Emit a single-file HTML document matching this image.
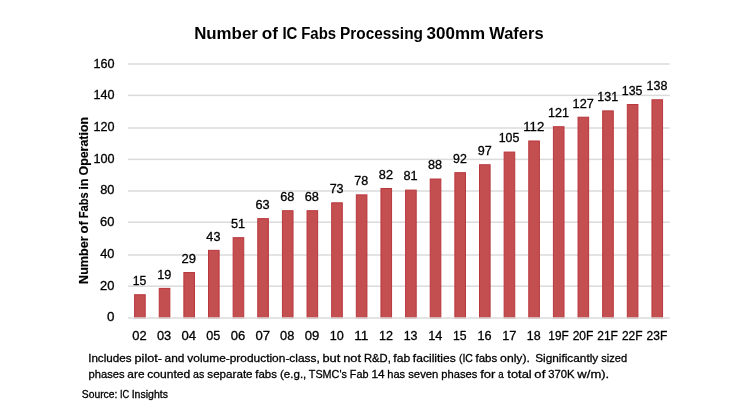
<!DOCTYPE html>
<html lang="en"><head><meta charset="utf-8"><title>Number of IC Fabs Processing 300mm Wafers</title>
<style>html,body{margin:0;padding:0;background:#fff}body{width:750px;height:420px;overflow:hidden}svg{display:block}text{font-family:"Liberation Sans",sans-serif;fill:#000;stroke:#000;stroke-width:0.3px;white-space:pre}.b{font-weight:bold;stroke-width:0}.b2{font-weight:bold;stroke-width:.15px}</style></head><body>
<svg width="750" height="420" viewBox="0 0 750 420">
<rect width="750" height="420" fill="#fff"/>
<g fill="#dbdbdb">
<rect x="127.8" y="285.45" width="542.0" height="1.5"/>
<rect x="127.8" y="254.25" width="542.0" height="1.5"/>
<rect x="127.8" y="221.45" width="542.0" height="1.5"/>
<rect x="127.8" y="190.25" width="542.0" height="1.5"/>
<rect x="127.8" y="158.65" width="542.0" height="1.5"/>
<rect x="127.8" y="127.25" width="542.0" height="1.5"/>
<rect x="127.8" y="94.65" width="542.0" height="1.5"/>
<rect x="127.8" y="63.25" width="542.0" height="1.5"/>
</g>
<g fill="#c44f51" stroke="#b8363c" stroke-width="1">
<rect x="134.60" y="294.73" width="10.6" height="23.27"/>
<rect x="159.24" y="288.38" width="10.6" height="29.62"/>
<rect x="183.87" y="272.54" width="10.6" height="45.46"/>
<rect x="208.51" y="250.34" width="10.6" height="67.66"/>
<rect x="233.14" y="237.67" width="10.6" height="80.33"/>
<rect x="257.78" y="218.64" width="10.6" height="99.36"/>
<rect x="282.42" y="210.72" width="10.6" height="107.28"/>
<rect x="307.05" y="210.72" width="10.6" height="107.28"/>
<rect x="331.69" y="202.80" width="10.6" height="115.20"/>
<rect x="356.32" y="194.87" width="10.6" height="123.13"/>
<rect x="380.96" y="188.53" width="10.6" height="129.47"/>
<rect x="405.60" y="190.12" width="10.6" height="127.88"/>
<rect x="430.23" y="179.02" width="10.6" height="138.98"/>
<rect x="454.87" y="172.68" width="10.6" height="145.32"/>
<rect x="479.50" y="164.75" width="10.6" height="153.25"/>
<rect x="504.14" y="152.08" width="10.6" height="165.92"/>
<rect x="528.78" y="140.98" width="10.6" height="177.02"/>
<rect x="553.41" y="126.72" width="10.6" height="191.28"/>
<rect x="578.05" y="117.21" width="10.6" height="200.79"/>
<rect x="602.68" y="110.87" width="10.6" height="207.13"/>
<rect x="627.32" y="104.53" width="10.6" height="213.47"/>
<rect x="651.96" y="99.77" width="10.6" height="218.23"/>
</g>
<rect x="127.8" y="317.25" width="542.0" height="1.5" fill="#dbdbdb"/>
<g>
<text x="132.66" y="285.03" font-size="12.5" textLength="13.61" lengthAdjust="spacingAndGlyphs">15</text>
<text x="157.26" y="278.69" font-size="12.5" textLength="14.15" lengthAdjust="spacingAndGlyphs">19</text>
<text x="181.59" y="262.84" font-size="12.5" textLength="14.47" lengthAdjust="spacingAndGlyphs">29</text>
<text x="206.39" y="240.65" font-size="12.5" textLength="14.03" lengthAdjust="spacingAndGlyphs">43</text>
<text x="230.98" y="227.97" font-size="12.5" textLength="14.17" lengthAdjust="spacingAndGlyphs">51</text>
<text x="255.51" y="208.94" font-size="12.5" textLength="14.17" lengthAdjust="spacingAndGlyphs">63</text>
<text x="280.15" y="201.02" font-size="12.5" textLength="14.17" lengthAdjust="spacingAndGlyphs">68</text>
<text x="304.79" y="201.02" font-size="12.5" textLength="14.17" lengthAdjust="spacingAndGlyphs">68</text>
<text x="329.65" y="193.10" font-size="12.5" textLength="13.94" lengthAdjust="spacingAndGlyphs">73</text>
<text x="354.28" y="185.17" font-size="12.5" textLength="13.94" lengthAdjust="spacingAndGlyphs">78</text>
<text x="378.80" y="178.83" font-size="12.5" textLength="14.17" lengthAdjust="spacingAndGlyphs">82</text>
<text x="403.43" y="180.42" font-size="12.5" textLength="14.17" lengthAdjust="spacingAndGlyphs">81</text>
<text x="428.07" y="169.32" font-size="12.5" textLength="14.06" lengthAdjust="spacingAndGlyphs">88</text>
<text x="453.10" y="162.98" font-size="12.5" textLength="13.76" lengthAdjust="spacingAndGlyphs">92</text>
<text x="477.73" y="155.06" font-size="12.5" textLength="13.99" lengthAdjust="spacingAndGlyphs">97</text>
<text x="498.69" y="142.38" font-size="12.5" textLength="20.63" lengthAdjust="spacingAndGlyphs">105</text>
<text x="523.26" y="131.28" font-size="12.5" textLength="21.05" lengthAdjust="spacingAndGlyphs">112</text>
<text x="547.95" y="117.02" font-size="12.5" textLength="20.97" lengthAdjust="spacingAndGlyphs">121</text>
<text x="572.57" y="107.51" font-size="12.5" textLength="21.20" lengthAdjust="spacingAndGlyphs">127</text>
<text x="597.22" y="101.17" font-size="12.5" textLength="20.97" lengthAdjust="spacingAndGlyphs">131</text>
<text x="621.87" y="94.83" font-size="12.5" textLength="20.63" lengthAdjust="spacingAndGlyphs">135</text>
<text x="646.50" y="90.07" font-size="12.5" textLength="20.86" lengthAdjust="spacingAndGlyphs">138</text>
</g><g>
<text x="132.26" y="339.50" font-size="12.5" textLength="14.35" lengthAdjust="spacingAndGlyphs">02</text>
<text x="156.90" y="339.50" font-size="12.5" textLength="14.24" lengthAdjust="spacingAndGlyphs">03</text>
<text x="181.53" y="339.50" font-size="12.5" textLength="14.54" lengthAdjust="spacingAndGlyphs">04</text>
<text x="206.18" y="339.50" font-size="12.5" textLength="14.01" lengthAdjust="spacingAndGlyphs">05</text>
<text x="230.81" y="339.50" font-size="12.5" textLength="14.47" lengthAdjust="spacingAndGlyphs">06</text>
<text x="255.44" y="339.50" font-size="12.5" textLength="14.59" lengthAdjust="spacingAndGlyphs">07</text>
<text x="280.08" y="339.50" font-size="12.5" textLength="14.24" lengthAdjust="spacingAndGlyphs">08</text>
<text x="304.71" y="339.50" font-size="12.5" textLength="14.53" lengthAdjust="spacingAndGlyphs">09</text>
<text x="329.72" y="339.50" font-size="12.5" textLength="14.03" lengthAdjust="spacingAndGlyphs">10</text>
<text x="354.29" y="339.50" font-size="12.5" textLength="14.09" lengthAdjust="spacingAndGlyphs">11</text>
<text x="379.00" y="339.50" font-size="12.5" textLength="13.96" lengthAdjust="spacingAndGlyphs">12</text>
<text x="403.64" y="339.50" font-size="12.5" textLength="13.85" lengthAdjust="spacingAndGlyphs">13</text>
<text x="428.26" y="339.50" font-size="12.5" textLength="14.16" lengthAdjust="spacingAndGlyphs">14</text>
<text x="452.93" y="339.50" font-size="12.5" textLength="13.61" lengthAdjust="spacingAndGlyphs">15</text>
<text x="477.53" y="339.50" font-size="12.5" textLength="14.09" lengthAdjust="spacingAndGlyphs">16</text>
<text x="502.16" y="339.50" font-size="12.5" textLength="14.20" lengthAdjust="spacingAndGlyphs">17</text>
<text x="526.82" y="339.50" font-size="12.5" textLength="13.85" lengthAdjust="spacingAndGlyphs">18</text>
<text x="548.33" y="339.50" font-size="12.5" textLength="20.33" lengthAdjust="spacingAndGlyphs">19F</text>
<text x="572.64" y="339.50" font-size="12.5" textLength="20.66" lengthAdjust="spacingAndGlyphs">20F</text>
<text x="597.28" y="339.50" font-size="12.5" textLength="20.66" lengthAdjust="spacingAndGlyphs">21F</text>
<text x="621.91" y="339.50" font-size="12.5" textLength="20.66" lengthAdjust="spacingAndGlyphs">22F</text>
<text x="646.55" y="339.50" font-size="12.5" textLength="20.66" lengthAdjust="spacingAndGlyphs">23F</text>
</g><g>
<text x="107.04" y="321.25" font-size="12.5" textLength="7.44" lengthAdjust="spacingAndGlyphs">0</text>
<text x="100.11" y="289.55" font-size="12.5" textLength="14.35" lengthAdjust="spacingAndGlyphs">20</text>
<text x="100.26" y="257.85" font-size="12.5" textLength="14.20" lengthAdjust="spacingAndGlyphs">40</text>
<text x="100.11" y="226.15" font-size="12.5" textLength="14.35" lengthAdjust="spacingAndGlyphs">60</text>
<text x="100.22" y="194.45" font-size="12.5" textLength="14.24" lengthAdjust="spacingAndGlyphs">80</text>
<text x="93.42" y="162.75" font-size="12.5" textLength="21.04" lengthAdjust="spacingAndGlyphs">100</text>
<text x="93.42" y="131.05" font-size="12.5" textLength="21.04" lengthAdjust="spacingAndGlyphs">120</text>
<text x="93.42" y="99.35" font-size="12.5" textLength="21.04" lengthAdjust="spacingAndGlyphs">140</text>
<text x="93.42" y="67.65" font-size="12.5" textLength="21.04" lengthAdjust="spacingAndGlyphs">160</text>
</g>
<g>
<text class="b" y="39.00" font-size="16.8"><tspan x="194.15" textLength="63.72" lengthAdjust="spacingAndGlyphs">Number</tspan> <tspan x="261.82" textLength="16.22" lengthAdjust="spacingAndGlyphs">of</tspan> <tspan x="282.45" textLength="14.94" lengthAdjust="spacingAndGlyphs">IC</tspan> <tspan x="301.23" textLength="34.85" lengthAdjust="spacingAndGlyphs">Fabs</tspan> <tspan x="340.06" textLength="82.87" lengthAdjust="spacingAndGlyphs">Processing</tspan> <tspan x="426.58" textLength="58.56" lengthAdjust="spacingAndGlyphs">300mm</tspan> <tspan x="489.21" textLength="54.39" lengthAdjust="spacingAndGlyphs">Wafers</tspan></text>
</g>
<g transform="translate(88.3,283.1) rotate(-90)" style="stroke-width:0.15px">
<text class="b2" y="0.00" font-size="12.5"><tspan x="-0.80" textLength="47.51" lengthAdjust="spacingAndGlyphs">Number</tspan> <tspan x="49.60" textLength="12.25" lengthAdjust="spacingAndGlyphs">of</tspan> <tspan x="64.81" textLength="25.99" lengthAdjust="spacingAndGlyphs">Fabs</tspan> <tspan x="93.40" textLength="11.34" lengthAdjust="spacingAndGlyphs">in</tspan> <tspan x="107.58" textLength="58.62" lengthAdjust="spacingAndGlyphs">Operation</tspan></text>
</g>
<g>
<text y="361.90" font-size="11.8"><tspan x="88.16" textLength="43.41" lengthAdjust="spacingAndGlyphs">Includes</tspan> <tspan x="134.50" textLength="27.53" lengthAdjust="spacingAndGlyphs">pilot-</tspan> <tspan x="164.64" textLength="19.79" lengthAdjust="spacingAndGlyphs">and</tspan> <tspan x="187.36" textLength="132.45" lengthAdjust="spacingAndGlyphs">volume-production-class,</tspan> <tspan x="322.48" textLength="17.86" lengthAdjust="spacingAndGlyphs">but</tspan> <tspan x="343.23" textLength="17.88" lengthAdjust="spacingAndGlyphs">not</tspan> <tspan x="363.93" textLength="26.85" lengthAdjust="spacingAndGlyphs">R&amp;D,</tspan> <tspan x="393.36" textLength="16.92" lengthAdjust="spacingAndGlyphs">fab</tspan> <tspan x="412.89" textLength="42.94" lengthAdjust="spacingAndGlyphs">facilities</tspan> <tspan x="458.92" textLength="13.98" lengthAdjust="spacingAndGlyphs">(IC</tspan> <tspan x="475.52" textLength="21.72" lengthAdjust="spacingAndGlyphs">fabs</tspan> <tspan x="500.11" textLength="29.79" lengthAdjust="spacingAndGlyphs">only).</tspan>  <tspan x="535.20" textLength="63.04" lengthAdjust="spacingAndGlyphs">Significantly</tspan> <tspan x="601.26" textLength="25.78" lengthAdjust="spacingAndGlyphs">sized</tspan></text>
</g>
<g>
<text y="377.80" font-size="11.8"><tspan x="88.49" textLength="36.06" lengthAdjust="spacingAndGlyphs">phases</tspan> <tspan x="127.39" textLength="17.14" lengthAdjust="spacingAndGlyphs">are</tspan> <tspan x="147.20" textLength="43.01" lengthAdjust="spacingAndGlyphs">counted</tspan> <tspan x="193.07" textLength="11.21" lengthAdjust="spacingAndGlyphs">as</tspan> <tspan x="207.34" textLength="45.27" lengthAdjust="spacingAndGlyphs">separate</tspan> <tspan x="255.24" textLength="21.72" lengthAdjust="spacingAndGlyphs">fabs</tspan> <tspan x="280.01" textLength="26.32" lengthAdjust="spacingAndGlyphs">(e.g.,</tspan> <tspan x="308.81" textLength="38.08" lengthAdjust="spacingAndGlyphs">TSMC's</tspan> <tspan x="349.77" textLength="18.67" lengthAdjust="spacingAndGlyphs">Fab</tspan> <tspan x="371.41" textLength="13.12" lengthAdjust="spacingAndGlyphs">14</tspan> <tspan x="387.28" textLength="17.89" lengthAdjust="spacingAndGlyphs">has</tspan> <tspan x="408.23" textLength="30.14" lengthAdjust="spacingAndGlyphs">seven</tspan> <tspan x="441.37" textLength="36.06" lengthAdjust="spacingAndGlyphs">phases</tspan> <tspan x="480.21" textLength="15.24" lengthAdjust="spacingAndGlyphs">for</tspan> <tspan x="498.22" textLength="5.41" lengthAdjust="spacingAndGlyphs">a</tspan> <tspan x="507.35" textLength="24.32" lengthAdjust="spacingAndGlyphs">total</tspan> <tspan x="534.39" textLength="10.89" lengthAdjust="spacingAndGlyphs">of</tspan> <tspan x="548.14" textLength="26.32" lengthAdjust="spacingAndGlyphs">370K</tspan> <tspan x="577.36" textLength="31.87" lengthAdjust="spacingAndGlyphs">w/m).</tspan></text>
</g>
<g>
<text y="397.60" font-size="10.45"><tspan x="81.75" textLength="35.62" lengthAdjust="spacingAndGlyphs">Source:</tspan> <tspan x="120.00" textLength="9.17" lengthAdjust="spacingAndGlyphs">IC</tspan> <tspan x="131.66" textLength="36.27" lengthAdjust="spacingAndGlyphs">Insights</tspan></text>
</g>
</svg></body></html>
